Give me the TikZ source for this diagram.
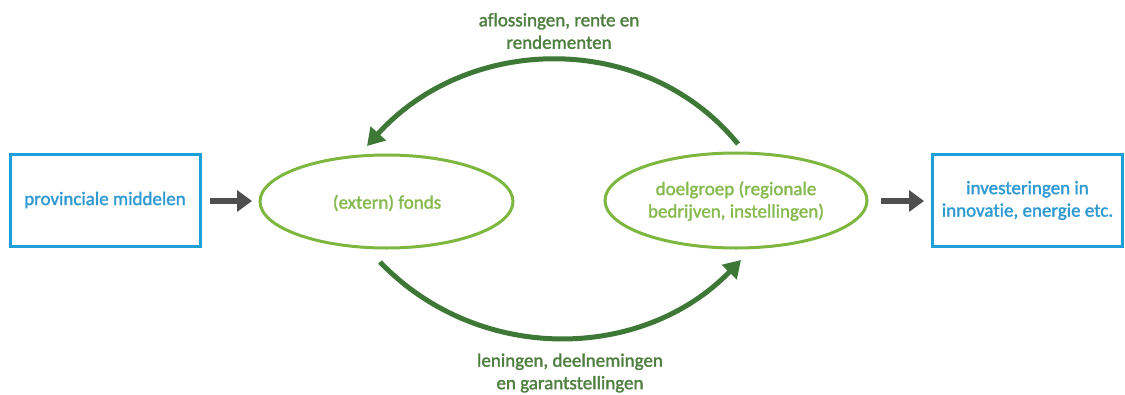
\documentclass[tikz,border=0pt]{standalone}
\usepackage{fontspec}
\setmainfont{Carlito}
\newfontfamily\lblfont{Carlito}[FakeBold=1.6, Ligatures=NoCommon]
\usetikzlibrary{arrows.meta}
\definecolor{boxblue}{HTML}{1DA0D8}
\definecolor{txtblue}{HTML}{2F9AD2}
\definecolor{ellgreen}{HTML}{7DB740}
\definecolor{elltxt}{HTML}{86B950}
\definecolor{arcgreen}{HTML}{3E7836}
\definecolor{lblgreen}{HTML}{4E7F40}
\definecolor{arrgray}{HTML}{4F4F4F}
\tikzset{
  txtfont/.style={font=\lblfont\fontsize{19}{22.5}\selectfont},
  bluebox/.style={draw=boxblue, line width=3pt, text=txtblue, minimum width=190pt, minimum height=92pt, inner sep=0pt, align=center, txtfont},
  greenell/.style={draw=ellgreen, line width=3pt},
  elltext/.style={text=elltxt, align=center, txtfont},
  arclbl/.style={text=lblgreen, align=center, txtfont},
  cyclearrow/.style={draw=arcgreen, line width=5pt, -{Triangle[length=17pt,width=20pt]}},
  grayarrow/.style={draw=arrgray, line width=6pt, -{Triangle[length=15pt,width=21pt]}}
}
\begin{document}
\begin{tikzpicture}[x=1pt,y=-1pt]
\useasboundingbox (0,0) rectangle (1125,394);
\node[bluebox] (prov) at (105,200) {provinciale middelen};
\node[bluebox] (inv) at (1027.5,200.5) {investeringen in\\innovatie, energie etc.};
\draw[greenell] (386.5,201.5) ellipse [x radius=126.5, y radius=46.5];
\node[elltext] (fonds) at (387,203) {(extern) fonds};
\draw[greenell] (736,200.5) ellipse [x radius=131, y radius=47.5];
\node[elltext] (doel) at (736,201) {doelgroep (regionale\\bedrijven, instellingen)};
\coordinate (a1s) at (210,201);
\coordinate (a1e) at (252,201);
\coordinate (a2s) at (881,201);
\coordinate (a2e) at (924,201);
\draw[grayarrow] (a1s) -- (a1e);
\draw[grayarrow] (a2s) -- (a2e);
\coordinate (ts) at (738,144);
\coordinate (te) at (367,146);
\coordinate (bs) at (380,262);
\coordinate (be) at (741,260);
\draw[cyclearrow] (ts) .. controls (645,30) and (468,34) .. (te);
\draw[cyclearrow] (bs) .. controls (478,364) and (642,362) .. (be);
\node[arclbl] (toplbl) at (559,31) {aflossingen, rente en\\rendementen};
\node[arclbl] (botlbl) at (570,373) {leningen, deelnemingen\\en garantstellingen};
\end{tikzpicture}
\end{document}
